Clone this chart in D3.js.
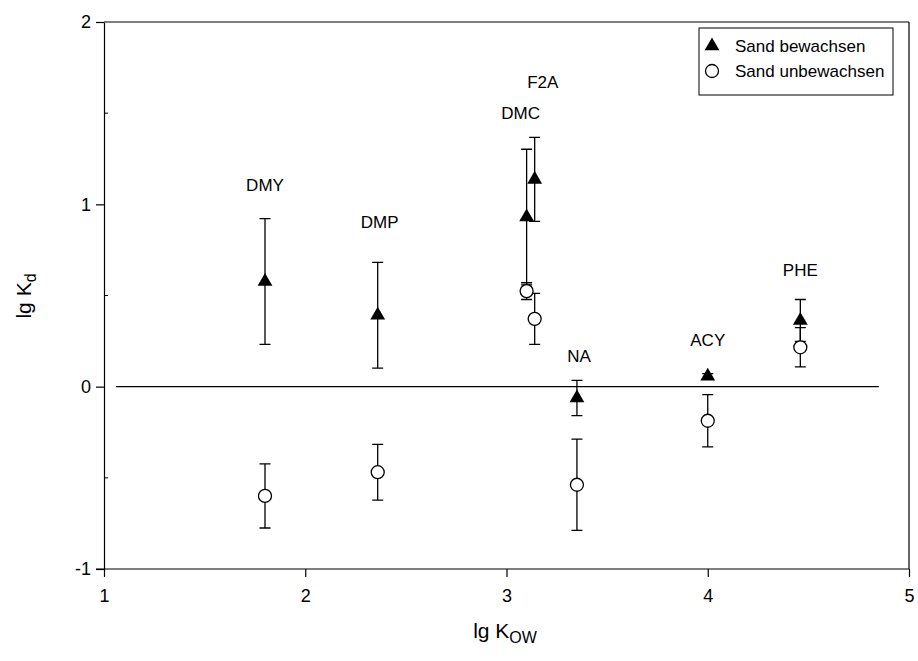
<!DOCTYPE html>
<html>
<head>
<meta charset="utf-8">
<script src="https://cdn.jsdelivr.net/npm/d3@7"></script>
<style>
  body { margin: 0; background: #fff; }
  svg text { font-family: Arial, 'Liberation Sans', sans-serif; fill: #000; }
</style>
</head>
<body>
<svg id="chart"></svg>
<script>
const names = ['DMY', 'DMP', 'DMC', 'F2A', 'NA', 'ACY', 'PHE'];
const lgKow = [1.80, 2.36, 3.10, 3.14, 3.35, 4.00, 4.46];
const bewachsen = [0.577, 0.392, 0.93, 1.137, -0.062, 0.057, 0.363];
const bewachsenErr = [0.345, 0.29, 0.372, 0.23, 0.097, 0.015, 0.115];
const unbewachsen = [-0.599, -0.469, 0.524, 0.372, -0.538, -0.187, 0.216];
const unbewachsenErr = [0.176, 0.153, 0.046, 0.14, 0.25, 0.143, 0.108];
const labelX = [1.80, 2.37, 3.07, 3.18, 3.36, 4.00, 4.46];
const labelY = [1.104, 0.903, 1.50, 1.67, 0.17, 0.254, 0.639];
const xTicks = [1, 2, 3, 4, 5];
const yTicks = [-1, 0, 1, 2];
const yMinorTicks = [-0.5, 0.5, 1.5];
const zeroLineX = [1.06, 4.85];
const legendLabels = ['Sand bewachsen', 'Sand unbewachsen'];

const width = 918;
const height = 661;

const svg = d3.select('#chart').attr('width', width).attr('height', height);

const x = d3.scaleLinear().domain([1, 5]).range([104, 909]);
const y = d3.scaleLinear().domain([-1, 2]).range([569, 22]);

const rows = names.map((n, i) => ({
  name: n,
  x: lgKow[i],
  bew: bewachsen[i],
  bewErr: bewachsenErr[i],
  unb: unbewachsen[i],
  unbErr: unbewachsenErr[i],
  lx: labelX[i],
  ly: labelY[i],
}));

// frame: top and right
svg.append('line').attr('x1', x(1)).attr('x2', x(5)).attr('y1', y(2)).attr('y2', y(2))
  .attr('stroke', '#000').attr('stroke-width', 1.2);
svg.append('line').attr('x1', x(5)).attr('x2', x(5)).attr('y1', y(2)).attr('y2', y(-1))
  .attr('stroke', '#000').attr('stroke-width', 1.2);

const fmt = (d) => String(d); // plain hyphen minus like the original

const xAxis = svg.append('g')
  .attr('transform', `translate(0,${y(-1)})`)
  .call(d3.axisBottom(x).tickValues(xTicks).tickFormat(fmt).tickSize(8).tickSizeOuter(0).tickPadding(12));

const yAxis = svg.append('g')
  .attr('transform', `translate(${x(1)},0)`)
  .call(d3.axisLeft(y).tickValues(yTicks).tickFormat(fmt).tickSize(8).tickSizeOuter(0).tickPadding(5));

[xAxis, yAxis].forEach((a) => {
  a.select('.domain').attr('stroke', '#000').attr('stroke-width', 1.2);
  a.selectAll('.tick line').attr('stroke', '#000').attr('stroke-width', 1.2);
  a.selectAll('.tick text').attr('font-size', 18).attr('fill', '#000')
    .style('font-family', "Arial, 'Liberation Sans', sans-serif");
});
// extend the x-axis line to meet the y ticks
xAxis.select('.domain').attr('d', `M${x(1) - 8},0H${x(5)}`);

// minor ticks on the y axis, inward
svg.append('g').selectAll('line').data(yMinorTicks).join('line')
  .attr('x1', x(1)).attr('x2', x(1) + 4)
  .attr('y1', (d) => y(d)).attr('y2', (d) => y(d))
  .attr('stroke', '#000').attr('stroke-width', 1);

// zero reference line
svg.append('line')
  .attr('x1', x(zeroLineX[0])).attr('x2', x(zeroLineX[1]))
  .attr('y1', y(0)).attr('y2', y(0))
  .attr('stroke', '#000').attr('stroke-width', 1.2);

// error bars
const capW = 5.5;
function errorBars(key, errKey) {
  const g = svg.append('g').attr('stroke', '#000').attr('stroke-width', 1.3).attr('fill', 'none');
  g.selectAll('path').data(rows).join('path')
    .attr('d', (d) => {
      const cx = x(d.x);
      const top = y(d[key] + d[errKey]);
      const bot = y(d[key] - d[errKey]);
      return `M${cx},${top}V${bot}M${cx - capW},${top}H${cx + capW}M${cx - capW},${bot}H${cx + capW}`;
    });
}
errorBars('unb', 'unbErr');
errorBars('bew', 'bewErr');

const triangle = d3.symbol(d3.symbolTriangle, 95);

svg.append('g').selectAll('circle').data(rows).join('circle')
  .attr('cx', (d) => x(d.x)).attr('cy', (d) => y(d.unb)).attr('r', 6.5)
  .attr('fill', '#fff').attr('stroke', '#000').attr('stroke-width', 1.3);

svg.append('g').selectAll('path').data(rows).join('path')
  .attr('d', triangle)
  .attr('transform', (d) => `translate(${x(d.x)},${y(d.bew)})`)
  .attr('fill', '#000');

// compound labels
svg.append('g').selectAll('text').data(rows).join('text')
  .attr('x', (d) => x(d.lx)).attr('y', (d) => y(d.ly))
  .attr('dy', '0.35em')
  .attr('text-anchor', 'middle')
  .attr('font-size', 17)
  .text((d) => d.name);

// axis titles
const xt = svg.append('text').attr('x', 505).attr('y', 638).attr('text-anchor', 'middle').attr('font-size', 21);
xt.append('tspan').text('lg K');
xt.append('tspan').attr('font-size', 16).attr('dy', 5).text('OW');

const yt = svg.append('text').attr('transform', 'translate(31,296) rotate(-90)').attr('text-anchor', 'middle').attr('font-size', 21);
yt.append('tspan').text('lg K');
yt.append('tspan').attr('font-size', 16).attr('dy', 5).text('d');

// legend
const lg = svg.append('g');
lg.append('rect').attr('x', 699).attr('y', 28).attr('width', 194).attr('height', 67)
  .attr('fill', '#fff').attr('stroke', '#000').attr('stroke-width', 1);
lg.append('path').attr('d', triangle).attr('transform', 'translate(712,46)').attr('fill', '#000');
lg.append('circle').attr('cx', 712).attr('cy', 71).attr('r', 6.5)
  .attr('fill', '#fff').attr('stroke', '#000').attr('stroke-width', 1.3);
lg.selectAll('text').data(legendLabels).join('text')
  .attr('x', 735).attr('y', (d, i) => 46 + i * 25).attr('dy', '0.35em')
  .attr('font-size', 17)
  .text((d) => d);
</script>
</body>
</html>
